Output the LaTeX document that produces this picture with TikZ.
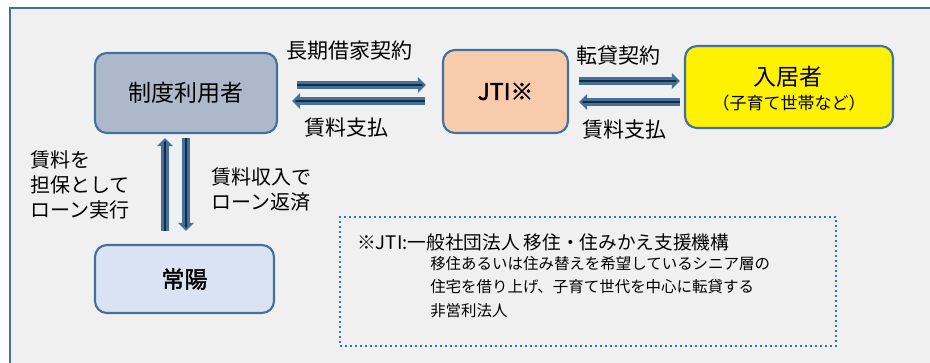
\documentclass[tikz,border=0pt]{standalone}
\usepackage{fontspec}
\setmainfont{Noto Sans CJK JP}[AutoFakeBold=2]
\usetikzlibrary{arrows.meta,positioning}
\definecolor{framebg}{HTML}{F0F0F0}
\definecolor{frameblue}{HTML}{41719C}
\definecolor{userfill}{HTML}{ADB9CA}
\definecolor{jtifill}{HTML}{F8CBAD}
\definecolor{bankfill}{HTML}{DAE3F3}
\definecolor{arrowcore}{HTML}{1C2A3A}
\definecolor{notedot}{HTML}{2E75B6}

\tikzset{
  box/.style={draw=frameblue, line width=1.6pt, rounded corners=9pt, inner sep=0pt},
  flow/.style={draw=frameblue, line width=5.5pt, -{Triangle[length=6pt,width=12pt,line width=0pt]},
    postaction={draw=arrowcore, line width=2.2pt, -{Triangle[length=2pt,width=2.2pt,line width=0pt,sep=2pt]}}},
  lbl/.style={font=\fontsize{15.75pt}{18pt}\selectfont, inner sep=0pt},
  vlbl/.style={font=\fontsize{15pt}{18.75pt}\selectfont, inner sep=0pt, align=left}
}

\begin{document}
\begin{tikzpicture}[x=0.75pt,y=-0.75pt]
\useasboundingbox (0,0) rectangle (930,362);
\begin{scope}
\clip (0,0) rectangle (930,362);
\fill[framebg] (10,8) rectangle (945,380);
\draw[frameblue, line width=1.9pt] (945,8) -- (10,8) -- (10,380);
\end{scope}

% the four parties
\node[box, fill=userfill, minimum width=136.5pt, minimum height=60pt,
  font=\fontsize{17.25pt}{20pt}\selectfont] (user) at (186,93) {制度利用者};
\node[box, fill=jtifill, minimum width=93.75pt, minimum height=62.25pt,
  font=\bfseries\fontsize{17.25pt}{20pt}\selectfont] (jti) at (505.5,91.5) {JTI※};
\node[box, fill=yellow, minimum width=156pt, minimum height=61.5pt] (tenant) at (789,87) {};
\node[inner sep=0pt, font=\fontsize{17.25pt}{20pt}\selectfont] (tenantname) at (788,77) {入居者};
\node[inner sep=0pt, font=\fontsize{12.75pt}{15pt}\selectfont] (tenantnote) at (789,103.5) {（子育て世帯など）};
\node[box, fill=bankfill, minimum width=134.25pt, minimum height=51pt,
  font=\bfseries\fontsize{17.25pt}{20pt}\selectfont] (bank) at (184.5,279) {常陽};

% contracts and payments
\draw[flow, shorten <=14.25pt, shorten >=12pt] (user.east |- 0,85) -- (jti.west |- 0,85);
\draw[flow, shorten <=12.75pt, shorten >=10.5pt] (jti.west |- 0,101) -- (user.east |- 0,101);
\draw[flow, shorten <=7.5pt, shorten >=3pt] (jti.east |- 0,81) -- (tenant.west |- 0,81);
\draw[flow, shorten <=3pt, shorten >=7.5pt] (tenant.west |- 0,102) -- (jti.east |- 0,102);
\draw[flow, shorten <=9.75pt, shorten >=3pt] (bank.north -| 165,0) -- (user.south -| 165,0);
\draw[flow, shorten <=3pt, shorten >=9.75pt] (user.south -| 186,0) -- (bank.north -| 186,0);

\node[lbl] (leaselbl) at (349,51) {長期借家契約};
\node[lbl] (rentlbla) at (346.5,127.5) {賃料支払};
\node[lbl] (sublbl) at (618,56) {転貸契約};
\node[lbl] (rentlblb) at (624,129.5) {賃料支払};
\node[vlbl, anchor=west] (loanlbl) at (30,185) {賃料を\\担保として\\ローン実行};
\node[vlbl, anchor=west] (repaylbl) at (211,189.5) {賃料収入で\\ローン返済};

% note on JTI
\node[draw=notedot, line width=1.5pt, dash pattern=on 1.5pt off 2.25pt,
  minimum width=372pt, minimum height=96.75pt] (note) at (588,281.5) {};
\node[anchor=west, inner sep=0pt, font=\fontsize{14pt}{17pt}\selectfont] (notehead) at (357,242)
  {※JTI:一般社団法人 移住・住みかえ支援機構};
\node[anchor=west, inner sep=0pt, align=left, font=\fontsize{11.6pt}{17.6pt}\selectfont] (notebody) at (430,287)
  {移住あるいは住み替えを希望しているシニア層の\\住宅を借り上げ、子育て世代を中心に転貸する\\非営利法人};
\end{tikzpicture}
\end{document}
